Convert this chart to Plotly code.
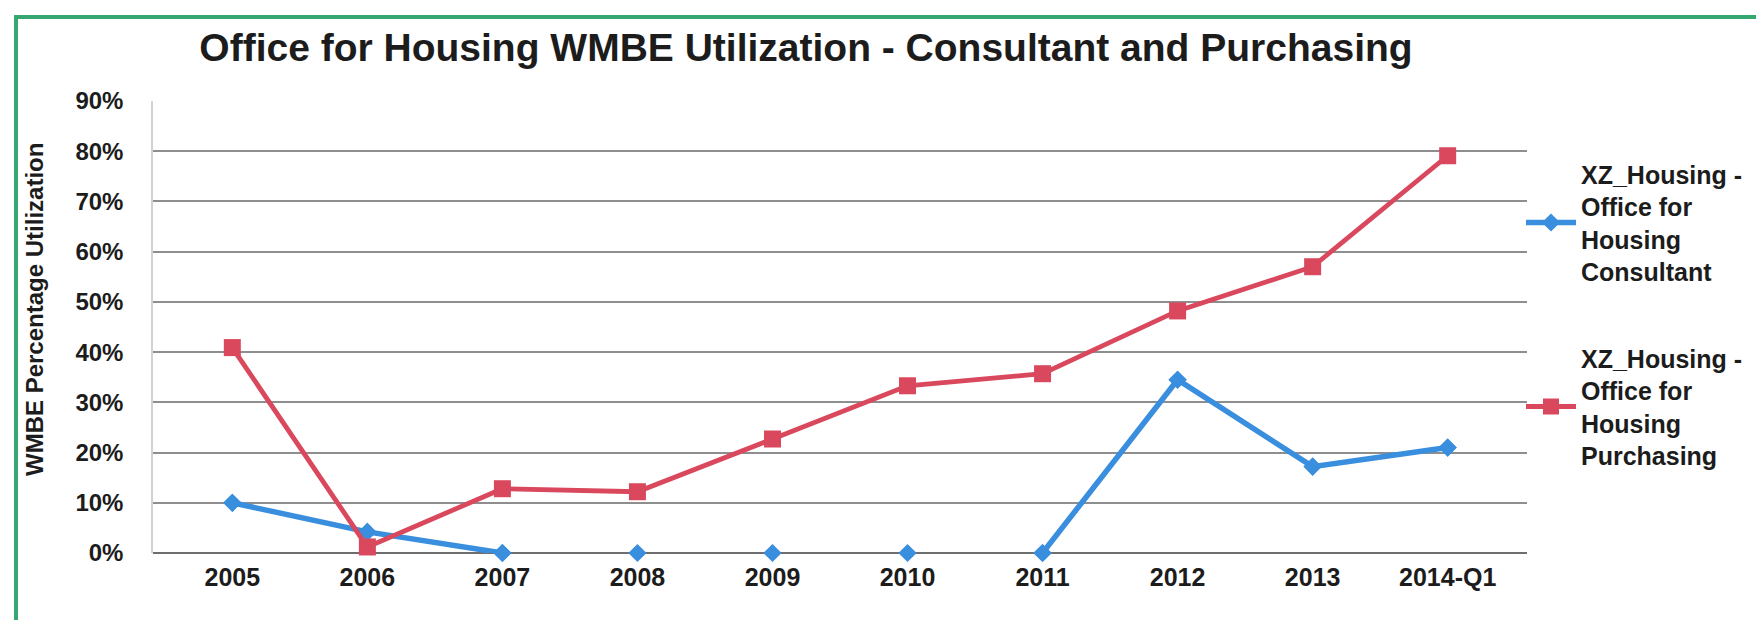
import plotly.graph_objects as go

categories = ["2005", "2006", "2007", "2008", "2009", "2010", "2011", "2012", "2013", "2014-Q1"]
consultant = [10.0, 4.2, 0.0, 0.0, 0.0, 0.0, 0.0, 34.5, 17.2, 21.0]
purchasing = [40.9, 1.2, 12.8, 12.2, 22.7, 33.3, 35.7, 48.2, 57.0, 79.1]
y_ticks = [0, 10, 20, 30, 40, 50, 60, 70, 80, 90]
y_tick_labels = [f"{v}%" for v in y_ticks]

name_c = "XZ_Housing -<br>Office for<br>Housing<br>Consultant"
name_p = "XZ_Housing -<br>Office for<br>Housing<br>Purchasing"

BLUE = "#3a8ede"
RED = "#d9485c"
FONT = "Liberation Sans"
TXT = "#1c1c1c"

# segments lying along the 0% axis are hidden under the axis line in the original
def mask_zero_runs(vals):
    out = []
    for i, v in enumerate(vals):
        prev0 = i == 0 or vals[i - 1] == 0
        next0 = i == len(vals) - 1 or vals[i + 1] == 0
        out.append(None if (v == 0 and prev0 and next0) else v)
    return out

W, H = 1764, 620
L, R, T, B = 145, 245, 93, 75
PW, PH = W - L - R, H - T - B

fig = go.Figure()
fig.add_trace(go.Scatter(
    x=categories, y=mask_zero_runs(consultant), mode="lines+markers", name=name_c,
    line=dict(color=BLUE, width=5.5), marker=dict(symbol="diamond", size=14, color=BLUE),
    cliponaxis=False, legendgroup="c", connectgaps=False))
fig.add_trace(go.Scatter(
    x=categories, y=consultant, mode="markers", showlegend=False, legendgroup="c",
    marker=dict(symbol="diamond", size=14, color=BLUE), cliponaxis=False))
fig.add_trace(go.Scatter(
    x=categories, y=purchasing, mode="lines+markers", name=name_p,
    line=dict(color=RED, width=4.8), marker=dict(symbol="square", size=17, color=RED),
    cliponaxis=False, legendgroup="p"))

def px_x(p):
    return (p - L) / PW

def px_y(p):
    return (H - B - p) / PH

# green frame around the figure
fig.add_shape(type="rect", xref="paper", yref="paper",
              x0=px_x(8), x1=px_x(1756), y0=px_y(616), y1=px_y(9),
              line=dict(color="#34a870", width=4), fillcolor="rgba(0,0,0,0)", layer="below")

fig.add_annotation(text="WMBE Percentage Utilization", xref="paper", yref="paper",
                   x=px_x(26), y=px_y(302), xanchor="center", yanchor="middle",
                   textangle=-90, showarrow=False,
                   font=dict(family=FONT, size=24, color=TXT, weight="bold"))

fig.update_layout(
    width=W, height=H,
    margin=dict(l=L, r=R, t=T, b=B),
    paper_bgcolor="white", plot_bgcolor="white",
    title=dict(text="Office for Housing WMBE Utilization - Consultant and Purchasing",
               x=798 / W, xanchor="center", y=1 - 39 / H, yanchor="middle",
               font=dict(family=FONT, size=39, color=TXT, weight="bold")),
    legend=dict(x=px_x(1513), y=px_y(143), xanchor="left", yanchor="top",
                font=dict(family=FONT, size=25, color=TXT, weight="bold"),
                bgcolor="rgba(0,0,0,0)", tracegroupgap=51, itemwidth=50,
                traceorder="grouped"),
    xaxis=dict(type="category", showgrid=False, zeroline=False, showline=False,
               tickfont=dict(family=FONT, size=25, color=TXT, weight="bold"),
               ticks="", ticklabelstandoff=7, fixedrange=True),
    yaxis=dict(range=[0, 90], tickmode="array", tickvals=y_ticks, ticktext=y_tick_labels,
               showgrid=True, gridcolor="#8e8e8e", gridwidth=1.5,
               zeroline=True, zerolinecolor="#6e6e6e", zerolinewidth=2,
               showline=True, linecolor="#d2d2d2", linewidth=1.5,
               tickfont=dict(family=FONT, size=24, color=TXT, weight="bold"),
               ticks="", ticklabelstandoff=23, fixedrange=True),
    showlegend=True,
)

fig.write_html("out.html")
